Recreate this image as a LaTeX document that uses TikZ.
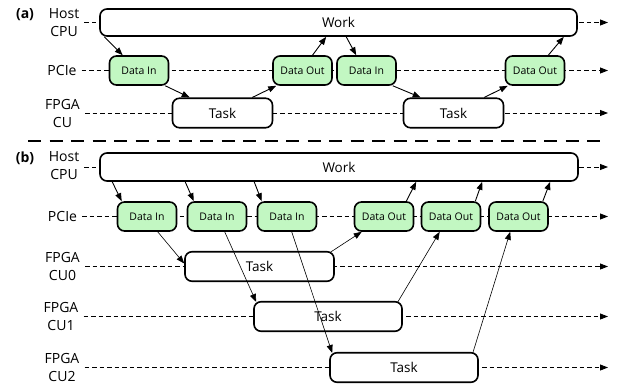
\documentclass[tikz,border=0pt]{standalone}
\usepackage{fontspec}
\setmainfont{Open Sans}
\usetikzlibrary{arrows.meta,calc}
\definecolor{mint}{RGB}{194,247,194}

\tikzset{
  phase/.style={draw,line width=1.6pt,rounded corners=7pt,fill=white,inner sep=0pt,
    font=\fontsize{13.5}{16}\selectfont},
  workbox/.style={phase,minimum height=27pt},
  taskbox/.style={phase,minimum height=29.5pt},
  xferbox/.style={phase,fill=mint,minimum width=59pt,minimum height=29pt,
    font=\fontsize{10.5}{12}\selectfont},
  lane/.style={dash pattern=on 4.5pt off 3pt,line width=0.9pt,shorten <=5pt,
    -{Triangle[length=8pt,width=6pt]}},
  flow/.style={line width=0.9pt,-{Triangle[length=8pt,width=6pt]}},
  thinflow/.style={line width=0.6pt,-{Triangle[length=8pt,width=6pt]}},
  lanelabel/.style={align=center,inner sep=0pt,font=\fontsize{14}{18}\selectfont},
  panel/.style={inner sep=0pt,font=\bfseries\fontsize{14}{16}\selectfont},
  divider/.style={line width=2.6pt,dash pattern=on 13pt off 8.5pt},
}

\begin{document}
\begin{tikzpicture}[x=1pt,y=-1pt]
\useasboundingbox (0,0) rectangle (623,388);

% ---------- panel (a): one compute unit ----------
\node[panel] (tagA) at (25,15) {(a)};
\node[lanelabel] (hostA) at (64,22.5) {Host\\CPU};
\node[lanelabel] (pcieA) at (62,70.5) {PCIe};
\node[lanelabel] (cuA) at (62.5,113) {FPGA\\CU};

\coordinate (endHostA) at (608,22.5);
\coordinate (endPcieA) at (608,70.5);
\coordinate (endCuA) at (608,113);

\draw[lane] (hostA.east |- endHostA) -- (endHostA);
\draw[lane] (pcieA.east |- endPcieA) -- (endPcieA);
\draw[lane] (cuA.east |- endCuA) -- (endCuA);

\node[workbox,minimum width=477pt] (workA) at (338.5,22.5) {Work};
\node[xferbox] (dinA1) at (139,70.5) {Data In};
\node[xferbox] (doutA1) at (302.5,70.5) {Data Out};
\node[xferbox] (dinA2) at (366.5,70.5) {Data In};
\node[xferbox] (doutA2) at (535,70.5) {Data Out};
\node[taskbox,minimum width=100pt] (taskA1) at (222.5,113) {Task};
\node[taskbox,minimum width=100pt] (taskA2) at (453.5,113) {Task};

\draw[flow] ($(workA.south west)+(5,0)$) -- ($(dinA1.north west)+(14,0)$);
\draw[flow] ($(dinA1.south east)+(-4,0)$) -- ($(taskA1.north west)+(18,0)$);
\draw[flow] ($(taskA1.north east)+(-21,0)$) -- ($(doutA1.south west)+(4,0)$);
\draw[flow] ($(doutA1.north)+(10,0)$) -- ($(workA.south west)+(227,0)$);
\draw[flow] ($(workA.south west)+(247,0)$) -- ($(dinA2.north west)+(20,0)$);
\draw[flow] ($(dinA2.south east)+(-4,0)$) -- ($(taskA2.north west)+(18,0)$);
\draw[flow] ($(taskA2.north east)+(-20,0)$) -- ($(doutA2.south west)+(3,0)$);
\draw[flow] ($(doutA2.north east)+(-17,0)$) -- ($(workA.south east)+(-14,0)$);

% ---------- divider ----------
\coordinate (divL) at (28,141);
\coordinate (divR) at (604,141);
\draw[divider] (divL) -- (divR);

% ---------- panel (b): three compute units ----------
\node[panel] (tagB) at (25,158) {(b)};
\node[lanelabel] (hostB) at (64,166) {Host\\CPU};
\node[lanelabel] (pcieB) at (62.5,216.5) {PCIe};
\node[lanelabel] (cu0B) at (62.5,266.5) {FPGA\\CU0};
\node[lanelabel] (cu1B) at (61,316.5) {FPGA\\CU1};
\node[lanelabel] (cu2B) at (62,367) {FPGA\\CU2};

\coordinate (endHostB) at (608,167);
\coordinate (endPcieB) at (608,216.5);
\coordinate (endCu0B) at (608,266.5);
\coordinate (endCu1B) at (608,316.5);
\coordinate (endCu2B) at (608,367.5);

\draw[lane] (hostB.east |- endHostB) -- (endHostB);
\draw[lane] (pcieB.east |- endPcieB) -- (endPcieB);
\draw[lane] (cu0B.east |- endCu0B) -- (endCu0B);
\draw[lane] (cu1B.east |- endCu1B) -- (endCu1B);
\draw[lane] (cu2B.east |- endCu2B) -- (endCu2B);

\node[workbox,minimum width=478pt,minimum height=28pt] (workB) at (339,167) {Work};
\node[xferbox] (dinB1) at (147,216.5) {Data In};
\node[xferbox] (dinB2) at (217,216.5) {Data In};
\node[xferbox] (dinB3) at (287,216.5) {Data In};
\node[xferbox] (doutB1) at (384,216.5) {Data Out};
\node[xferbox] (doutB2) at (451,216.5) {Data Out};
\node[xferbox] (doutB3) at (518.5,216.5) {Data Out};
\node[taskbox,minimum width=149pt] (taskB0) at (259.5,266.5) {Task};
\node[taskbox,minimum width=148pt] (taskB1) at (328,316.5) {Task};
\node[taskbox,minimum width=148pt] (taskB2) at (404,367.5) {Task};

\draw[flow] ($(workB.south west)+(13,0)$) -- ($(dinB1.north west)+(5,0)$);
\draw[flow] ($(workB.south west)+(86,0)$) -- ($(dinB2.north west)+(7,0)$);
\draw[flow] ($(workB.south west)+(155,0)$) -- ($(dinB3.north west)+(5,0)$);

\draw[thinflow] ($(dinB1.south west)+(41,0)$) -- ($(taskB0.west)+(0,-3)$);
\draw[thinflow] ($(dinB2.south west)+(38,0)$) -- ($(taskB1.north west)+(3,1)$);
\draw[thinflow] ($(dinB3.south west)+(35,0)$) -- ($(taskB2.north west)+(3,1)$);

\draw[thinflow] ($(taskB0.north east)+(-4,1)$) -- ($(doutB1.south west)+(8,0)$);
\draw[thinflow] ($(taskB1.north east)+(-5,1)$) -- ($(doutB2.south west)+(19,0)$);
\draw[thinflow] ($(taskB2.north east)+(-6,1)$) -- ($(doutB3.south west)+(22,0)$);

\draw[flow] ($(doutB1.north east)+(-8,0)$) -- ($(workB.south west)+(317,0)$);
\draw[flow] ($(doutB2.north east)+(-6,0)$) -- ($(workB.south west)+(383,0)$);
\draw[flow] ($(doutB3.north east)+(-6,0)$) -- ($(workB.south west)+(451,0)$);
\end{tikzpicture}
\end{document}
